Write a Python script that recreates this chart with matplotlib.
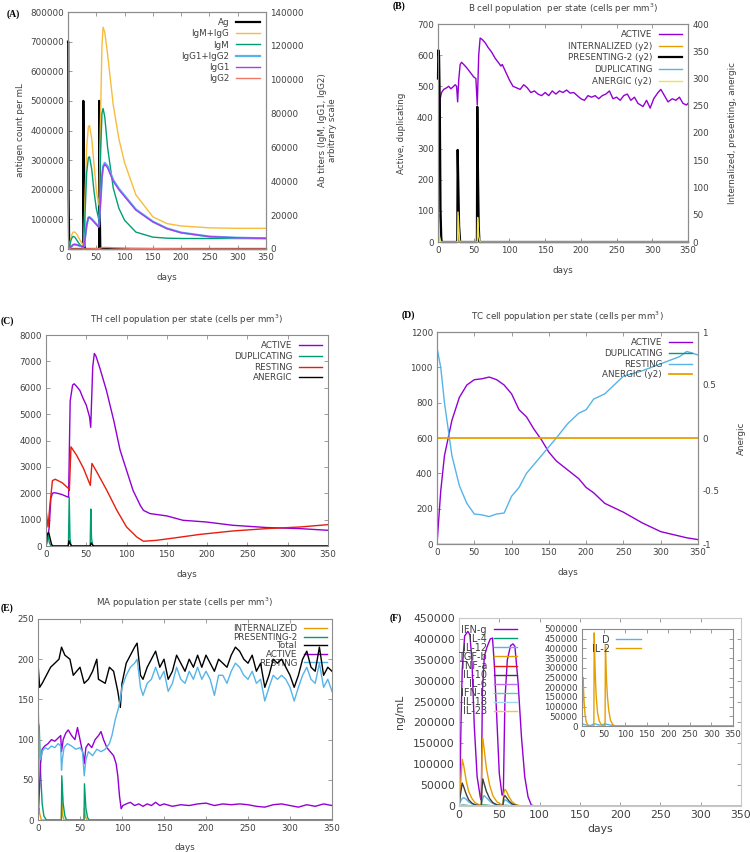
import numpy as np
import matplotlib
matplotlib.use('Agg')
from matplotlib import pyplot as plt

# colours (gnuplot-like palette)
purple = '#9400D3'
green = '#009E73'
blue = '#56B4E9'
orange = '#E69F00'
yellow = '#F0E442'
red = '#E51E10'
frame = '#8c8c8c'
txt = '#404040'

# ---------------- (A) antigen and antibodies ----------------
ag_days = [0, 0.4, 1, 2, 3, 27, 27.1, 28, 29, 30, 55, 55.1, 56, 57, 58, 350]
ag_vals = [700000, 700000, 200000, 20000, 0, 0, 500000, 150000, 10000, 0,
           0, 500000, 150000, 10000, 0, 0]

ab_days = [0, 3, 6, 9, 12, 15, 20, 25, 27, 28, 30, 33, 36, 38, 42, 46, 50,
           54, 55, 57, 60, 62, 65, 70, 80, 90, 100, 120, 150, 175, 200, 250,
           300, 350]
igm_igg = [0, 3000, 8000, 10000, 10000, 9000, 6000, 3000, 2500, 5000, 30000,
           60000, 72000, 73000, 65000, 50000, 35000, 26000, 28000, 70000,
           120000, 131000, 128000, 115000, 85000, 65000, 51000, 32000, 19000,
           15000, 13600, 12500, 12200, 12200]
igm = [0, 2500, 6000, 7500, 7000, 5500, 3000, 1000, 500, 2000, 20000, 45000,
       54000, 54500, 47000, 34000, 24000, 18000, 20000, 50000, 80000, 83000,
       78000, 60000, 36000, 24000, 17000, 10000, 7000, 6400, 6200, 6200, 6200,
       6200]
igg1 = [0, 500, 1500, 2500, 2700, 2500, 2000, 1500, 1200, 1500, 6000, 14000,
        18500, 18700, 17500, 16000, 14500, 13000, 14000, 25000, 42000, 48000,
        50000, 48000, 40000, 35000, 31000, 23000, 16000, 12000, 9600, 7300,
        6600, 6300]
igg2 = [0, 0, 0, 0, 0, 0, 0, 0, 0, 0, 50, 80, 100, 100, 120, 150, 200, 250,
        300, 500, 800, 850, 900, 900, 700, 600, 500, 350, 200, 150, 100, 50,
        30, 20]

# ---------------- (B) B cells ----------------
b_act_days = [0, 1, 2, 3, 5, 8, 12, 15, 18, 21, 24, 26, 27.5, 29, 31, 33, 36,
              40, 45, 50, 53, 55, 57, 59, 62, 66, 70, 75, 80, 85, 88, 90, 95,
              100, 105, 110, 115, 120, 125, 130, 135, 140, 145, 150, 155, 160,
              165, 170, 175, 180, 185, 190, 195, 200, 205, 210, 215, 220, 225,
              230, 235, 240, 245, 250, 255, 260, 265, 270, 275, 280, 287, 292,
              297, 302, 308, 312, 317, 322, 328, 333, 338, 343, 348, 350]
b_active = [90, 100, 300, 460, 480, 490, 495, 500, 492, 498, 505, 500, 450,
            520, 570, 577, 570, 560, 545, 530, 525, 440, 600, 655, 650, 640,
            625, 610, 590, 575, 565, 570, 545, 520, 500, 495, 490, 505, 495,
            480, 485, 475, 470, 480, 470, 485, 475, 485, 480, 488, 478, 480,
            470, 460, 455, 470, 465, 470, 460, 470, 475, 485, 460, 465, 455,
            470, 475, 455, 465, 445, 435, 455, 430, 460, 480, 490, 470, 450,
            460, 455, 465, 445, 440, 445]
b_pres_days = [0, 0.5, 1.5, 2.5, 3.5, 4.5, 5, 27, 27.5, 28.5, 29.5, 31, 54.5,
               55, 56, 57, 58, 350]
b_presenting = [300, 352, 340, 250, 60, 10, 0, 0, 169, 100, 30, 0, 0, 248,
                120, 30, 0, 0]
b_int_days = [0, 0.5, 1, 2, 3, 4, 27.5, 28, 29, 30, 31, 55, 55.5, 56.5, 58,
              350]
b_internalized = [0, 50, 45, 15, 3, 0, 0, 55, 20, 5, 0, 0, 45, 15, 0, 0]
b_dup_days = [0, 1, 2, 4, 6, 27.5, 28, 29.5, 31, 54.5, 55, 56.5, 58, 60, 350]
b_duplicating = [0, 90, 40, 10, 0, 0, 100, 30, 0, 0, 120, 40, 5, 0, 0]
b_an_days = [0, 0.5, 2, 4, 27.5, 28, 30, 31, 55, 55.5, 57, 59, 350]
b_anergic = [0, 45, 10, 0, 0, 55, 5, 0, 0, 45, 10, 0, 0]

# ---------------- (C) TH cells ----------------
th_act_days = [0, 2, 4, 6, 8, 10, 14, 20, 26, 28, 30, 33, 35, 38, 42, 46, 50,
               54, 55.5, 58, 60, 62, 67, 75, 84, 92, 100, 108, 117, 121, 129,
               150, 170, 199, 232, 274, 315, 350]
th_active = [0, 300, 700, 1800, 2000, 2020, 2000, 1950, 1870, 1850, 5500,
             6100, 6150, 6050, 5900, 5600, 5340, 4900, 4500, 6800, 7300, 7200,
             6730, 5900, 4770, 3630, 2870, 2110, 1540, 1350, 1230, 1140, 975,
             910, 785, 700, 660, 595]
th_rest_days = [0, 2.5, 5, 8, 11.5, 20, 28, 29, 31, 38, 46.6, 55, 57, 63,
                75.5, 88, 100, 112.7, 121, 137, 158, 191, 232, 274, 315, 350]
th_resting = [1390, 720, 1600, 2480, 2530, 2400, 2180, 2100, 3760, 3440, 2940,
              2300, 3130, 2810, 2110, 1350, 720, 340, 180, 215, 300, 440, 570,
              660, 720, 810]
th_dup_days = [0, 1, 2.5, 4, 6, 27.8, 28.8, 29.8, 31, 54.8, 55.6, 56.5, 58,
               350]
th_duplicating = [0, 100, 450, 150, 0, 0, 1850, 300, 0, 0, 1400, 300, 0, 0]
th_an_days = [0, 1, 2, 3.5, 5, 7, 9, 27.5, 28.5, 30, 32, 55, 56, 58, 60, 350]
th_anergic = [0, 350, 480, 500, 300, 50, 0, 0, 200, 80, 0, 0, 120, 30, 0, 0]

# ---------------- (D) TC cells ----------------
tc_days = [0, 5, 10, 20, 30, 40, 50, 60, 70, 80, 90, 100, 110, 120, 130, 140,
           150, 160, 175, 190, 200, 210, 225, 250, 275, 300, 325, 335, 350]
tc_active = [0, 300, 500, 700, 830, 900, 930, 935, 945, 930, 900, 850, 760,
             720, 650, 590, 520, 470, 420, 370, 320, 290, 230, 180, 120, 70,
             45, 35, 25]
tc_resting = [1110, 1000, 800, 500, 330, 230, 170, 165, 155, 170, 175, 270,
              320, 400, 450, 500, 550, 600, 680, 740, 760, 820, 850, 950, 980,
              1020, 1060, 1090, 1070]
tc_duplicating = [0] * len(tc_days)
tc_anergic_days = [0, 350]
tc_anergic = [0, 0]

# ---------------- (E) macrophages ----------------
ma_tot_days = [0, 2, 5, 10, 15, 20, 25, 28, 32, 38, 42, 50, 55, 60, 65, 70,
               72, 80, 85, 90, 95, 98, 100, 105, 110, 115, 118, 122, 125, 130,
               135, 140, 145, 150, 155, 160, 165, 170, 175, 180, 185, 190, 195,
               200, 205, 210, 215, 220, 225, 230, 235, 240, 245, 250, 255, 260,
               265, 270, 275, 280, 285, 290, 295, 300, 305, 310, 315, 320, 325,
               330, 335, 340, 345, 350]
ma_total = [195, 165, 170, 180, 190, 195, 200, 215, 205, 200, 180, 190, 170,
            175, 185, 200, 175, 170, 190, 185, 160, 140, 170, 195, 205, 215,
            220, 180, 175, 190, 200, 210, 190, 200, 175, 185, 205, 195, 185,
            200, 190, 205, 190, 205, 195, 185, 200, 195, 190, 205, 215, 210,
            200, 195, 205, 185, 195, 165, 180, 200, 195, 200, 190, 180, 165,
            180, 200, 210, 190, 185, 215, 180, 190, 185]
ma_rest_days = [0, 1, 2, 3, 5, 8, 12, 16, 20, 24, 27, 28, 29, 31, 35, 40, 45,
                50, 53, 55, 57, 60, 65, 70, 75, 80, 85, 88, 92, 96, 98, 100,
                105, 110, 115, 118, 122, 125, 130, 135, 140, 145, 150, 155,
                160, 165, 170, 175, 180, 185, 190, 195, 200, 205, 210, 215,
                220, 225, 230, 235, 240, 245, 250, 255, 260, 265, 270, 275,
                280, 285, 290, 295, 300, 305, 310, 315, 320, 325, 330, 335,
                340, 345, 350]
ma_resting = [150, 110, 80, 75, 85, 90, 88, 92, 90, 95, 92, 62, 75, 90, 95, 92,
              88, 90, 85, 55, 75, 85, 80, 88, 85, 88, 95, 105, 125, 140, 150,
              165, 180, 190, 195, 200, 165, 155, 170, 175, 190, 175, 185, 160,
              170, 190, 175, 170, 185, 175, 190, 175, 185, 175, 155, 180, 180,
              170, 185, 195, 190, 180, 175, 185, 170, 175, 148, 165, 180, 175,
              180, 175, 165, 148, 165, 180, 190, 175, 170, 195, 165, 175, 160]
ma_act_days = [0, 1, 3, 5, 8, 12, 16, 20, 24, 27, 28, 30, 33, 36, 40, 44, 47,
               50, 54, 55, 57, 60, 64, 68, 72, 75, 78, 82, 86, 90, 93, 95, 97,
               99, 101, 105, 110, 115, 120, 125, 130, 135, 140, 145, 150, 160,
               170, 180, 190, 200, 210, 220, 230, 240, 250, 260, 270, 280, 290,
               300, 310, 320, 330, 340, 350]
ma_active = [0, 20, 70, 88, 92, 95, 100, 98, 102, 105, 85, 100, 108, 112, 105,
             100, 115, 100, 80, 70, 90, 95, 90, 100, 105, 110, 100, 90, 85, 80,
             70, 55, 30, 14, 18, 20, 22, 18, 20, 17, 20, 18, 22, 18, 20, 17,
             19, 18, 20, 21, 18, 20, 19, 20, 19, 17, 16, 19, 20, 18, 16, 19,
             17, 20, 18]
ma_pres_days = [0, 0.5, 1.5, 3, 5, 7, 10, 27.8, 28.3, 30, 32, 34, 54.8, 55.3,
                57, 59, 61, 350]
ma_presenting = [0, 120, 115, 60, 20, 5, 0, 0, 55, 20, 5, 0, 0, 45, 15, 3, 0,
                 0]
ma_int_days = [0, 1, 2, 4, 27.8, 28.3, 29.5, 31, 54.8, 55.3, 56.5, 58, 350]
ma_internalized = [0, 15, 8, 0, 0, 22, 5, 0, 0, 15, 4, 0, 0]

# ---------------- (F) cytokines ----------------
ifn_days = [0, 1, 2.5, 4, 7, 11, 13.5, 16, 19, 22.5, 26.5, 27.7, 29, 31.4,
            34.7, 38.8, 41.6, 44, 47, 50, 53.4, 55, 57, 60, 64, 67, 69.4, 73.4,
            77.5, 81.6, 85.7, 89.8, 95, 350]
ifn_g = [0, 30000, 200000, 326000, 407000, 418000, 410000, 350000, 190000,
         70000, 20000, 14000, 270000, 358000, 380000, 400000, 402000, 334000,
         206000, 78000, 26000, 30000, 254000, 350000, 384000, 388000, 382000,
         294000, 166000, 70000, 22000, 2000, 0, 0]
cyt_days = [0, 2, 4, 6, 9, 12, 16, 20, 25, 27.7, 28.5, 29.5, 31, 34, 38, 42,
            47, 52, 54.5, 55.5, 57, 59, 62, 66, 70, 75, 80, 350]
tgf_b = [0, 50000, 112000, 95000, 60000, 35000, 18000, 8000, 3000, 2000,
         120000, 163000, 140000, 90000, 50000, 25000, 10000, 4000, 3000, 30000,
         40000, 35000, 22000, 10000, 4000, 1000, 0, 0]
il_10 = [0, 30000, 55000, 45000, 28000, 15000, 7000, 3000, 1000, 1000, 40000,
         65000, 55000, 35000, 18000, 8000, 3000, 1000, 1000, 20000, 25000,
         20000, 12000, 5000, 2000, 0, 0, 0]
il_12 = [0, 12000, 18000, 20000, 16000, 10000, 5000, 2000, 1000, 1000, 10000,
         18000, 25000, 20000, 12000, 6000, 2000, 1000, 1000, 10000, 15000,
         13000, 8000, 3000, 1000, 0, 0, 0]
il_4 = [0, 1000, 2000, 2000, 1500, 1000, 500, 200, 0, 0, 1500, 2500, 2500,
        2000, 1200, 600, 200, 0, 0, 1000, 1500, 1500, 1000, 500, 200, 0, 0, 0]
small = [0, 500, 1000, 1000, 700, 400, 200, 100, 0, 0, 600, 1000, 1000, 800,
         500, 200, 100, 0, 0, 500, 800, 700, 400, 200, 100, 0, 0, 0]
cyt_labels = ['IFN-g', 'IL-4', 'IL-12', 'TGF-b', 'TNF-a', 'IL-10', 'IL-6',
              'IFN-b', 'IL-18', 'IL-23']
cyt_colors = [purple, green, blue, orange, red, '#404040', '#C070F0',
              '#60D0A0', '#A0D8F0', '#F8C050']

il2_days = [0, 1, 2.4, 3.5, 5, 7, 10, 14, 18, 27.5, 28.3, 29.5, 31, 33, 36,
            40, 45, 50, 53.5, 54.3, 55.5, 57, 59, 62, 66, 71, 76, 350]
il_2 = [0, 100000, 250000, 190000, 120000, 60000, 20000, 3000, 0, 0, 480000,
        360000, 250000, 150000, 70000, 25000, 5000, 0, 0, 412000, 320000,
        230000, 150000, 80000, 30000, 8000, 0, 0]
d_days = [0, 2, 10, 20, 28, 40, 55, 65, 80, 350]
d_vals = [0, 10000, 5000, 2000, 12000, 5000, 10000, 5000, 0, 0]

days_ticks = list(range(0, 351, 50))
fs = 6.3
W, H = 750, 852
fig = plt.figure(figsize=(W / 100, H / 100), dpi=100)


def box(l, t, r, b):
    return [l / W, 1 - b / H, (r - l) / W, (b - t) / H]


def style(ax, mirror=True, size=fs):
    for s in ax.spines.values():
        s.set_color(frame)
        s.set_linewidth(0.8)
    ax.tick_params(direction='in', length=3, width=0.6, colors=frame,
                   labelcolor=txt, labelsize=size, top=True, right=mirror,
                   pad=3)
    ax.set_xlim(0, 350)
    ax.set_xticks(days_ticks)


def key(ax, handles, labels, **kw):
    opts = dict(loc='upper right', frameon=False, markerfirst=False,
                fontsize=fs, handlelength=2.6, handletextpad=0.8,
                borderaxespad=0.3, labelcolor=txt)
    opts.update(kw)
    return ax.legend(handles, labels, **opts)


def panel_label(x, y, s):
    fig.text(x / W, 1 - y / H, s, fontsize=7, fontweight='bold',
             family='Liberation Serif', va='center', ha='left')


lw = 1.0

# ---- A ----
ax = fig.add_axes(box(68, 12, 266, 249))
ax2 = ax.twinx()
style(ax, mirror=False)
style(ax2, mirror=False)
h_ag, = ax.plot(ag_days, ag_vals, color='black', lw=1.6, clip_on=False)
ax.set_ylim(0, 800000)
ax.set_yticks(range(0, 800001, 100000))
ax2.set_ylim(0, 140000)
ax2.set_yticks(range(0, 140001, 20000))
h1, = ax2.plot(ab_days, igm_igg, color='#F8BC3C', lw=lw)
h2, = ax2.plot(ab_days, igm, color=green, lw=lw)
h3, = ax2.plot(ab_days, np.add(igg1, igg2), color=blue, lw=1.6)
h4, = ax2.plot(ab_days, igg1, color='#A040F0', lw=lw)
h5, = ax2.plot(ab_days, igg2, color='#F07868', lw=lw)
ax.set_ylabel('antigen count per mL', fontsize=fs, color=txt, labelpad=4)
ax2.set_ylabel('Ab titers (IgM, IgG1, IgG2)\narbitrary scale', fontsize=fs,
               color=txt, labelpad=10)
ax.set_xlabel('days', fontsize=fs, color=txt, labelpad=8)
key(ax2, [h_ag, h1, h2, h3, h4, h5],
    ['Ag', 'IgM+IgG', 'IgM', 'IgG1+IgG2', 'IgG1', 'IgG2'],
    labelspacing=0.25, handlelength=2.7)
panel_label(7, 14, '(A)')

# ---- B ----
ax = fig.add_axes(box(438, 24, 688, 242))
ax2 = ax.twinx()
style(ax, mirror=False)
style(ax2, mirror=False)
ax.set_ylim(0, 700)
ax.set_yticks(range(0, 701, 100))
ax2.set_ylim(0, 400)
ax2.set_yticks(range(0, 401, 50))
ha, = ax.plot(b_act_days, b_active, color=purple, lw=lw)
hd, = ax.plot(b_dup_days, b_duplicating, color=blue, lw=lw)
hi, = ax2.plot(b_int_days, b_internalized, color=orange, lw=lw)
hp, = ax2.plot(b_pres_days, b_presenting, color='black', lw=1.6,
               clip_on=False)
hn, = ax2.plot(b_an_days, b_anergic, color=yellow, lw=lw)
ax.set_ylabel('Active, duplicating', fontsize=fs, color=txt, labelpad=8)
ax2.set_ylabel('Internalized, presenting, anergic', fontsize=fs, color=txt,
               labelpad=14)
ax.set_xlabel('days', fontsize=fs, color=txt, labelpad=8)
ax.set_title('B cell population  per state (cells per mm$^3$)', fontsize=fs,
             color=txt, pad=9)
key(ax2, [ha, hi, hp, hd, hn],
    ['ACTIVE', 'INTERNALIZED (y2)', 'PRESENTING-2 (y2)', 'DUPLICATING',
     'ANERGIC (y2)'], labelspacing=0.3)
panel_label(393, 6, '(B)')

# ---- C ----
ax = fig.add_axes(box(46, 335, 328, 546))
style(ax)
ax.set_ylim(0, 8000)
ax.set_yticks(range(0, 8001, 1000))
ha, = ax.plot(th_act_days, th_active, color=purple, lw=lw)
hd, = ax.plot(th_dup_days, th_duplicating, color=green, lw=lw)
hr, = ax.plot(th_rest_days, th_resting, color=red, lw=lw)
hn, = ax.plot(th_an_days, th_anergic, color='black', lw=lw)
ax.set_xlabel('days', fontsize=fs, color=txt, labelpad=8)
ax.set_title('TH cell population per state (cells per mm$^3$)', fontsize=fs,
             color=txt, pad=9)
key(ax, [ha, hd, hr, hn], ['ACTIVE', 'DUPLICATING', 'RESTING', 'ANERGIC'],
    labelspacing=0.2)
panel_label(1, 321, '(C)')

# ---- D ----
ax = fig.add_axes(box(437, 332, 698, 544))
ax2 = ax.twinx()
style(ax, mirror=False)
style(ax2, mirror=False)
ax.set_ylim(0, 1200)
ax.set_yticks(range(0, 1201, 200))
ax2.set_ylim(-1, 1)
ax2.set_yticks([-1, -0.5, 0, 0.5, 1])
ax2.set_yticklabels(['-1', '-0.5', '0', '0.5', '1'])
ha, = ax.plot(tc_days, tc_active, color=purple, lw=lw)
hd, = ax.plot(tc_days, tc_duplicating, color=green, lw=lw)
hr, = ax.plot(tc_days, tc_resting, color=blue, lw=lw)
hn, = ax2.plot(tc_anergic_days, tc_anergic, color=orange, lw=1.3)
ax2.set_ylabel('Anergic', fontsize=fs, color=txt, labelpad=13)
ax.set_xlabel('days', fontsize=fs, color=txt, labelpad=8)
ax.set_title('TC cell population per state (cells per mm$^3$)', fontsize=fs,
             color=txt, pad=9)
key(ax2, [ha, hd, hr, hn], ['ACTIVE', 'DUPLICATING', 'RESTING',
                            'ANERGIC (y2)'], labelspacing=0.2)
panel_label(402, 315, '(D)')

# ---- E ----
ax = fig.add_axes(box(38, 619, 332, 820))
style(ax)
ax.set_ylim(0, 250)
ax.set_yticks(range(0, 251, 50))
hi, = ax.plot(ma_int_days, ma_internalized, color=orange, lw=lw)
hp, = ax.plot(ma_pres_days, ma_presenting, color=green, lw=lw)
ht, = ax.plot(ma_tot_days, ma_total, color='black', lw=lw)
ha, = ax.plot(ma_act_days, ma_active, color=purple, lw=lw)
hr, = ax.plot(ma_rest_days, ma_resting, color=blue, lw=lw)
ax.set_xlabel('days', fontsize=fs, color=txt, labelpad=7)
ax.set_title('MA population per state (cells per mm$^3$)', fontsize=fs,
             color=txt, pad=9)
leg = key(ax, [hi, hp, ht, ha, hr],
          ['INTERNALIZED', 'PRESENTING-2', 'Total', 'ACTIVE', 'RESTING'],
          labelspacing=-0.05, borderaxespad=0.2)
leg.set_zorder(1)
panel_label(1, 608, '(E)')

# ---- F ----
ax = fig.add_axes(box(459, 618, 741, 806))
style(ax, size=7.8)
for s in ax.spines.values():
    s.set_color('#c8c8c8')
ax.set_ylim(0, 450000)
ax.set_yticks(range(0, 450001, 50000))
series = [ifn_g, il_4, il_12, tgf_b, small, il_10, small, small, small, small]
hs = []
for lab, col, vals in zip(cyt_labels, cyt_colors, series):
    d = ifn_days if lab == 'IFN-g' else cyt_days
    h, = ax.plot(d, vals, color=col, lw=lw)
    hs.append(h)
ax.set_ylabel('ng/mL', fontsize=7.8, color=txt, labelpad=6)
ax.set_xlabel('days', fontsize=7.8, color=txt, labelpad=3)
key(ax, hs, cyt_labels, loc='upper right', bbox_to_anchor=(0.23, 1.0),
    labelspacing=-0.1, fontsize=7, handlelength=2.4, handletextpad=0.7)

axi = fig.add_axes(box(582, 629, 733, 726))
style(axi)
axi.set_ylim(0, 500000)
axi.set_yticks(range(0, 500001, 50000))
hd, = axi.plot(d_days, d_vals, color=blue, lw=lw)
h2, = axi.plot(il2_days, il_2, color=orange, lw=lw)
key(axi, [hd, h2], ['D', 'IL-2'], loc='upper right',
    bbox_to_anchor=(0.43, 1.0), labelspacing=-0.1, fontsize=7,
    handlelength=2.6, handletextpad=0.6, borderaxespad=0.2)
panel_label(390, 618, '(F)')

plt.savefig('out.png', dpi=100)
